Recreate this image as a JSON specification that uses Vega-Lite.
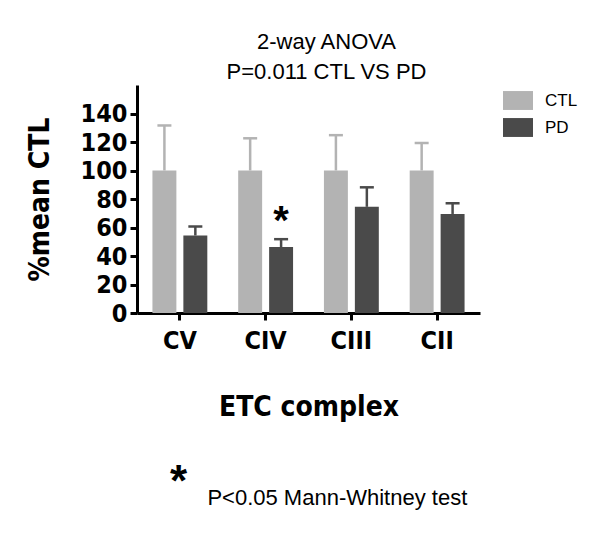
{
  "$schema": "https://vega.github.io/schema/vega-lite/v6.json",
  "padding": {"left": 26, "top": 31, "right": 5, "bottom": 5},
  "background": "white",
  "title": {
    "text": "*",
    "subtitle": "\u200b\u2002\u2002\u2002\u2009P<0.05 Mann-Whitney test",
    "orient": "bottom",
    "anchor": "start",
    "frame": "group",
    "font": "Liberation Sans",
    "fontSize": 44,
    "fontWeight": "bold",
    "color": "black",
    "subtitleFont": "Liberation Sans",
    "subtitleFontSize": 22,
    "subtitleColor": "black",
    "subtitlePadding": -17,
    "dx": 33,
    "offset": 40
  },
  "vconcat": [
    {
      "title": {
        "text": ["2-way ANOVA", "P=0.011 CTL VS PD"],
        "font": "Liberation Sans",
        "fontSize": 22,
        "fontWeight": "normal",
        "lineHeight": 30,
        "color": "black",
        "dx": 18,
        "offset": 1
      },
      "width": 343,
      "height": 228,
      "data": {
        "values": [
          {"complex": "CV", "group": "CTL", "value": 100, "upper": 131.6, "sig": ""},
          {"complex": "CV", "group": "PD", "value": 54.4, "upper": 60.7, "sig": ""},
          {"complex": "CIV", "group": "CTL", "value": 100, "upper": 122.6, "sig": ""},
          {"complex": "CIV", "group": "PD", "value": 46.3, "upper": 51.8, "sig": "*"},
          {"complex": "CIII", "group": "CTL", "value": 100, "upper": 124.8, "sig": ""},
          {"complex": "CIII", "group": "PD", "value": 74.5, "upper": 88.2, "sig": ""},
          {"complex": "CII", "group": "CTL", "value": 100, "upper": 119.3, "sig": ""},
          {"complex": "CII", "group": "PD", "value": 69.5, "upper": 77.0, "sig": ""}
        ]
      },
      "encoding": {
        "x": {
          "field": "complex",
          "type": "nominal",
          "sort": ["CV", "CIV", "CIII", "CII"],
          "scale": {"paddingInner": 0.36, "paddingOuter": 0.18},
          "title": "ETC complex",
          "axis": {
            "labelAngle": 0,
            "labelFontSize": 25,
            "labelPadding": 8,
            "titleFontSize": 28,
            "titlePadding": 40
          }
        },
        "xOffset": {
          "field": "group",
          "type": "nominal",
          "sort": ["CTL", "PD"],
          "scale": {"paddingInner": 0.226}
        },
        "color": {
          "field": "group",
          "type": "nominal",
          "scale": {"domain": ["CTL", "PD"], "range": ["#b3b3b3", "#4a4a4a"]},
          "legend": {
            "title": null,
            "orient": "right",
            "offset": 21,
            "padding": 2,
            "symbolType": "M-1,-0.63L1,-0.63L1,0.63L-1,0.63Z",
            "symbolSize": 900,
            "symbolStrokeWidth": 0,
            "symbolOpacity": 1,
            "labelFont": "Liberation Sans",
            "labelFontSize": 17,
            "labelColor": "black",
            "labelOffset": 12,
            "clipHeight": 27,
            "rowPadding": 0
          }
        }
      },
      "layer": [
        {
          "mark": {"type": "bar", "opacity": 1},
          "encoding": {
            "y": {
              "field": "value", "type": "quantitative",
              "scale": {"domain": [0, 150]},
              "title": "%mean CTL",
              "axis": {"values": [0, 20, 40, 60, 80, 100, 120, 140], "labelOverlap": false, "labelFontSize": 25, "labelPadding": 3, "titleFontSize": 28, "titlePadding": 26}
            }
          }
        },
        {
          "mark": {"type": "rule", "strokeWidth": 2.5},
          "encoding": {
            "y": {
              "field": "value", "type": "quantitative",
              "title": "%mean CTL",
              "axis": {"values": [0, 20, 40, 60, 80, 100, 120, 140], "labelOverlap": false, "labelFontSize": 25, "labelPadding": 3, "titleFontSize": 28, "titlePadding": 26}
            },
            "y2": {"field": "upper"}
          }
        },
        {
          "mark": {"type": "tick", "thickness": 2.5, "size": 14, "orient": "horizontal", "opacity": 1},
          "encoding": {
            "y": {
              "field": "upper", "type": "quantitative",
              "title": "%mean CTL",
              "axis": {"values": [0, 20, 40, 60, 80, 100, 120, 140], "labelOverlap": false, "labelFontSize": 25, "labelPadding": 3, "titleFontSize": 28, "titlePadding": 26}
            }
          }
        },
        {
          "transform": [{"filter": "datum.sig != ''"}],
          "mark": {"type": "text", "font": "Liberation Sans", "fontSize": 40, "fontWeight": "bold", "baseline": "alphabetic", "dy": -5},
          "encoding": {
            "y": {
              "field": "upper", "type": "quantitative",
              "title": "%mean CTL",
              "axis": {"values": [0, 20, 40, 60, 80, 100, 120, 140], "labelOverlap": false, "labelFontSize": 25, "labelPadding": 3, "titleFontSize": 28, "titlePadding": 26}
            },
            "text": {"field": "sig"},
            "color": {"value": "black"}
          }
        }
      ]
    }
  ],
  "config": {
    "view": {"stroke": null},
    "axisY": {"labelOverlap": false},
    "axis": {
      "grid": false,
      "domainColor": "black",
      "domainWidth": 3,
      "tickColor": "black",
      "tickWidth": 3,
      "tickSize": 7,
      "labelFont": "DejaVu Sans Condensed, Liberation Sans",
      "labelFontWeight": "bold",
      "labelColor": "black",
      "titleFont": "DejaVu Sans Condensed, Liberation Sans",
      "titleFontWeight": "bold",
      "titleColor": "black"
    }
  }
}
